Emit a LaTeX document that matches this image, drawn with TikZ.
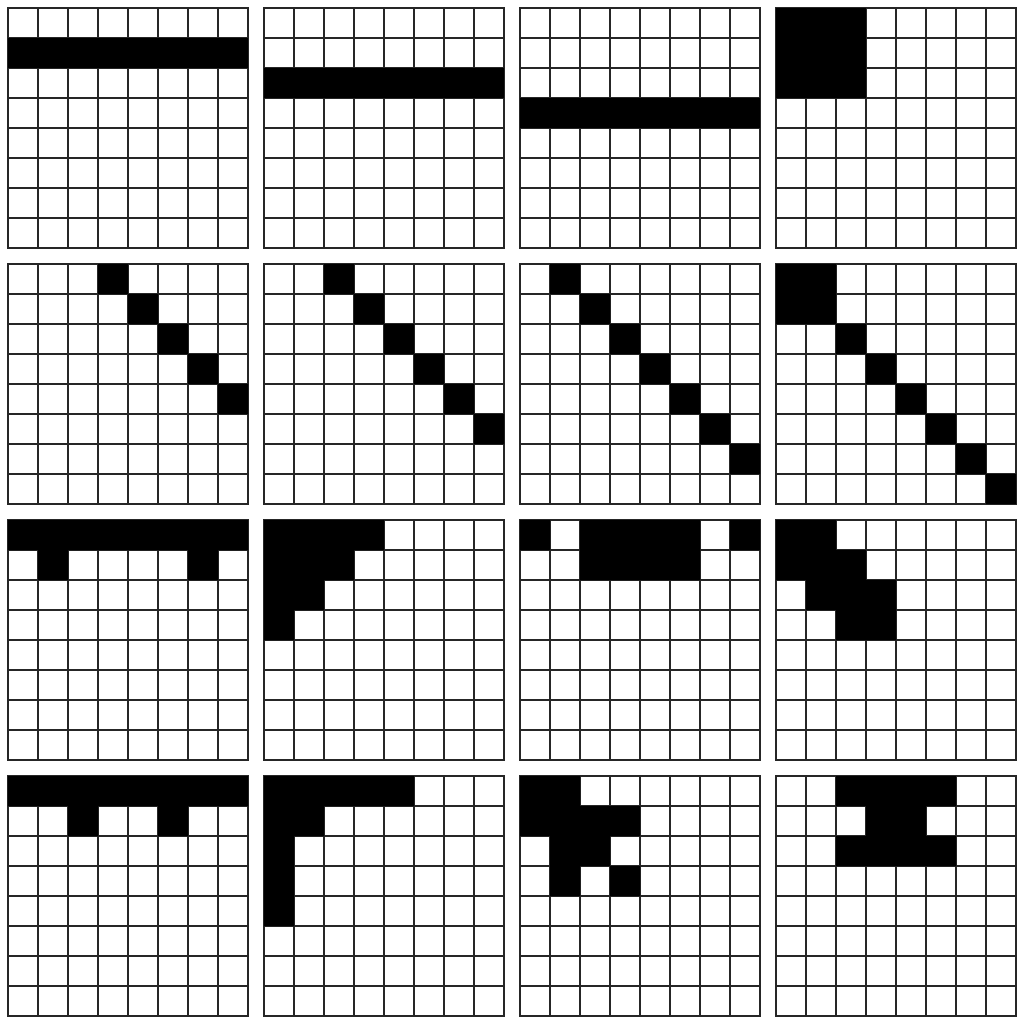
\documentclass[tikz,border=0pt]{standalone}

\tikzset{
  gridline/.style={line width=1.7pt,draw=black!85},
  cellfill/.style={fill=black}
}
% one 8x8 board: column, row of the board, then filled blocks c/r/w/h
\newcommand{\board}[3]{%
  \begin{scope}[shift={({\marg+\pitch*#1},{-\marg-\pitch*#2})}]
    \draw[gridline] (0,0) grid (8,-8);
    \draw[gridline] (0,0) rectangle (8,-8);
    \fill[cellfill] \foreach \c/\r/\w/\h in {#3} {(\c,-\r) rectangle ++(\w,-\h)};
  \end{scope}}

\begin{document}
\begin{tikzpicture}
\def\marg{0.26667}
\def\pitch{8.53333}
\fill[white] (0,0) rectangle (34.13333,-34.13333);
\useasboundingbox (0,0) rectangle (34.13333,-34.13333);

% first row: bars and a block
\board{0}{0}{0/1/8/1}
\board{1}{0}{0/2/8/1}
\board{2}{0}{0/3/8/1}
\board{3}{0}{0/0/3/3}

% second row: diagonals
\board{0}{1}{3/0/1/1,4/1/1/1,5/2/1/1,6/3/1/1,7/4/1/1}
\board{1}{1}{2/0/1/1,3/1/1/1,4/2/1/1,5/3/1/1,6/4/1/1,7/5/1/1}
\board{2}{1}{1/0/1/1,2/1/1/1,3/2/1/1,4/3/1/1,5/4/1/1,6/5/1/1,7/6/1/1}
\board{3}{1}{0/0/2/2,2/2/1/1,3/3/1/1,4/4/1/1,5/5/1/1,6/6/1/1,7/7/1/1}

% third row
\board{0}{2}{0/0/8/1,1/1/1/1,6/1/1/1}
\board{1}{2}{0/0/4/1,0/1/3/1,0/2/2/1,0/3/1/1}
\board{2}{2}{0/0/1/1,2/0/4/2,7/0/1/1}
\board{3}{2}{0/0/2/2,2/1/1/3,1/2/1/1,3/2/1/2}

% fourth row
\board{0}{3}{0/0/8/1,2/1/1/1,5/1/1/1}
\board{1}{3}{0/0/5/1,0/1/2/1,0/2/1/3}
\board{2}{3}{0/0/2/1,0/1/4/1,1/2/2/1,1/3/1/1,3/3/1/1}
\board{3}{3}{2/0/4/1,3/1/2/1,2/2/4/1}
\end{tikzpicture}
\end{document}
